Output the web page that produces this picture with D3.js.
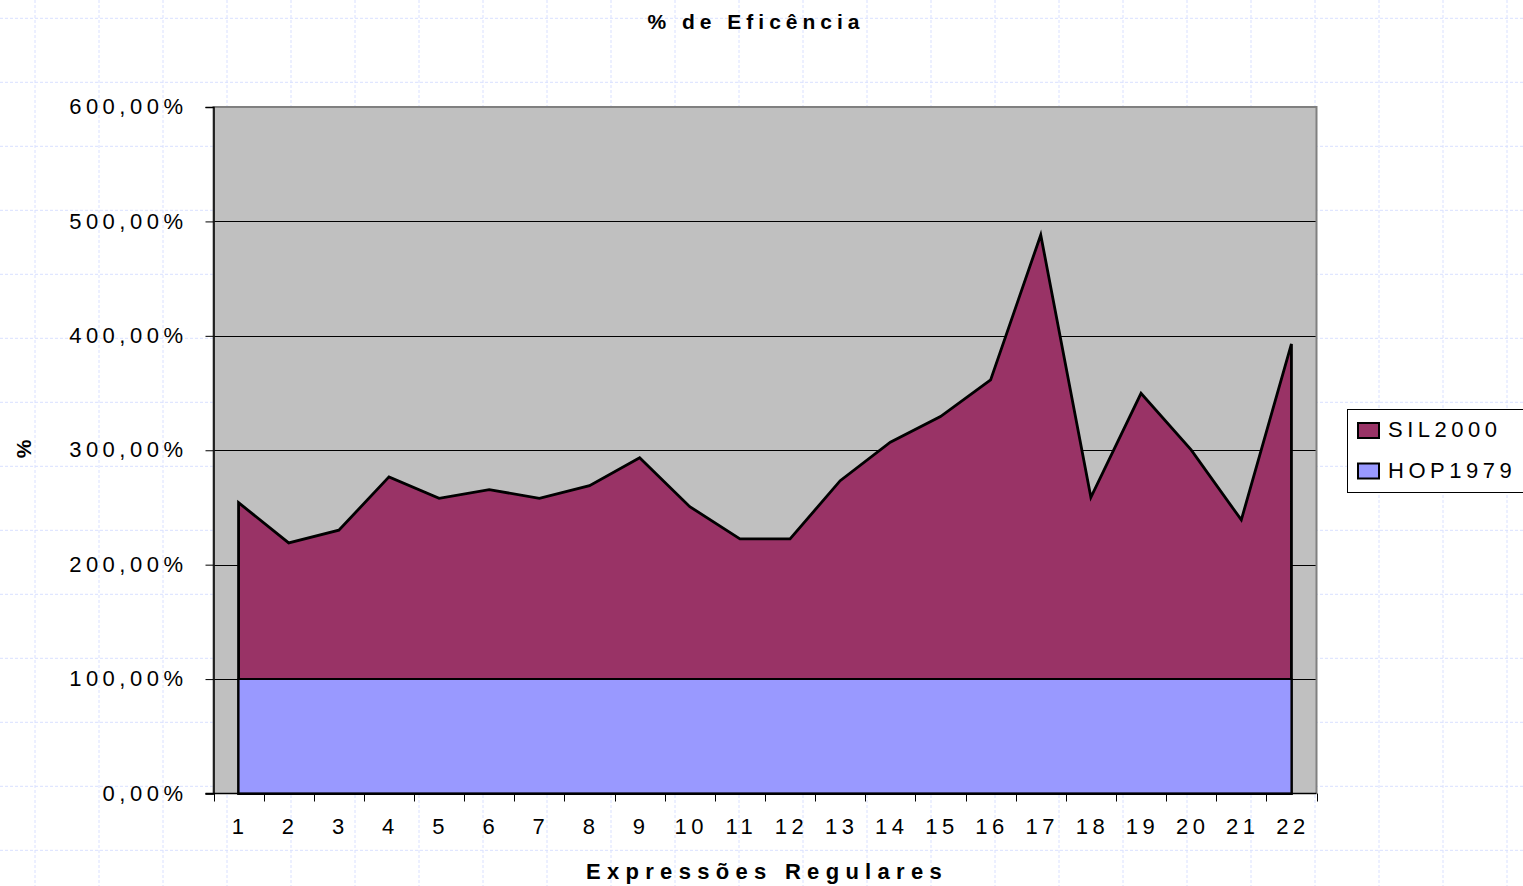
<!DOCTYPE html>
<html>
<head>
<meta charset="utf-8">
<title>% de Eficência</title>
<script src="https://cdn.jsdelivr.net/npm/d3@7"></script>
<style>
  html, body { margin: 0; padding: 0; background: #fff; }
  svg { display: block; }
  text { font-family: "Liberation Sans", Arial, sans-serif; fill: #000; }
</style>
</head>
<body>
<svg id="chart" width="1523" height="886"></svg>
<script>
// Regular expression ids (category axis)
const categories = ["1","2","3","4","5","6","7","8","9","10","11","12","13","14","15","16","17","18","19","20","21","22"];
// Efficiency in percent, relative to HOP1979
const sil2000 = [254.2, 219.0, 230.1, 276.7, 258.0, 265.6, 258.0, 269.1, 293.5, 250.7, 222.5, 222.5,
                 273.4, 307.0, 329.4, 361.4, 488.2, 258.9, 349.8, 300.3, 239.1, 392.9];
const hop1979 = [100, 100, 100, 100, 100, 100, 100, 100, 100, 100, 100, 100,
                 100, 100, 100, 100, 100, 100, 100, 100, 100, 100];
const yTicks = [0, 100, 200, 300, 400, 500, 600];
const seriesNames = ["SIL2000", "HOP1979"];
const seriesColors = ["#993366", "#9999FF"];

const svg = d3.select("#chart");
const W = 1523, H = 886;
const plot = { left: 213.5, right: 1316.5, top: 107, bottom: 793.5 };

// Dashed page grid in the background
const bg = svg.append("g").attr("class", "page-grid")
  .attr("stroke", "#d9e0ff").attr("stroke-width", 1).attr("stroke-dasharray", "3,2");
d3.range(35, W, 64).forEach(x => {
  bg.append("line").attr("x1", x).attr("x2", x).attr("y1", 0).attr("y2", H);
});
d3.range(18.3, H, 64).forEach(y => {
  bg.append("line").attr("x1", 0).attr("x2", W).attr("y1", y).attr("y2", y);
});

const x = d3.scaleBand().domain(categories).range([plot.left, plot.right]);
const cx = c => x(c) + x.bandwidth() / 2;
const y = d3.scaleLinear().domain([0, 600]).range([plot.bottom, plot.top]);

// Plot area
svg.append("rect")
  .attr("x", plot.left).attr("y", plot.top)
  .attr("width", plot.right - plot.left).attr("height", plot.bottom - plot.top)
  .attr("fill", "#c0c0c0");

// Horizontal value gridlines
svg.append("g").selectAll("line")
  .data(yTicks.filter(t => t > 0 && t < 600))
  .join("line")
  .attr("x1", plot.left).attr("x2", plot.right)
  .attr("y1", d => Math.round(y(d)) + 0.5).attr("y2", d => Math.round(y(d)) + 0.5)
  .attr("stroke", "#000").attr("stroke-width", 1);

// Plot frame (top, left, right)
svg.append("path")
  .attr("d", `M${plot.left},${plot.bottom} V${plot.top} H${plot.right} V${plot.bottom}`)
  .attr("fill", "none").attr("stroke", "#808080").attr("stroke-width", 2);

const rows = categories.map((c, i) => ({ c, sil: sil2000[i], hop: hop1979[i] }));

function areaPath(key) {
  const a = d3.area().x(d => cx(d.c)).y0(y(0)).y1(d => y(d[key]));
  return a(rows);
}

// SIL2000 area (behind), HOP1979 area (front)
svg.append("path").attr("d", areaPath("sil"))
  .attr("fill", seriesColors[0]).attr("stroke", "#000").attr("stroke-width", 2.8)
  .attr("stroke-linejoin", "miter");
svg.append("path").attr("d", areaPath("hop"))
  .attr("fill", seriesColors[1]).attr("stroke", "#000").attr("stroke-width", 2);

// Y axis
const fmt = v => d3.format(".2f")(v).replace(".", ",") + "%";
const yAxis = svg.append("g")
  .attr("transform", `translate(${plot.left},0)`)
  .call(d3.axisLeft(y).tickValues(yTicks).tickFormat(fmt).tickSize(8).tickPadding(18));
yAxis.select(".domain").attr("stroke", "#000").attr("stroke-width", 1.5);
yAxis.selectAll(".tick line").attr("stroke", "#000");
yAxis.selectAll(".tick text")
  .attr("font-size", 22).attr("letter-spacing", "4.5px")
  .attr("font-family", "Liberation Sans, Arial, sans-serif")
  .attr("dy", "0.3em");

// X axis with ticks at band edges and labels centered in each band
const xAxisG = svg.append("g");
xAxisG.append("line")
  .attr("x1", plot.left - 8).attr("x2", plot.right)
  .attr("y1", plot.bottom).attr("y2", plot.bottom)
  .attr("stroke", "#000").attr("stroke-width", 1.5);
const edges = categories.map(c => x(c)).concat([plot.right]);
xAxisG.selectAll("line.tick").data(edges).join("line")
  .attr("class", "tick")
  .attr("x1", d => Math.round(d) + 0.5).attr("x2", d => Math.round(d) + 0.5)
  .attr("y1", plot.bottom).attr("y2", plot.bottom + 8)
  .attr("stroke", "#000");
xAxisG.selectAll("text").data(categories).join("text")
  .attr("x", d => cx(d) + 1.5).attr("y", 834)
  .attr("text-anchor", "middle")
  .attr("font-size", 22).attr("letter-spacing", "4.5px")
  .text(d => d);

// Titles
svg.append("text")
  .attr("x", 756).attr("y", 29)
  .attr("text-anchor", "middle")
  .attr("font-size", 21).attr("font-weight", "bold").attr("letter-spacing", "5px")
  .text("% de Eficência");
svg.append("text")
  .attr("x", 767).attr("y", 879)
  .attr("text-anchor", "middle")
  .attr("font-size", 22).attr("font-weight", "bold").attr("letter-spacing", "6.3px")
  .text("Expressões Regulares");
svg.append("text")
  .attr("transform", "translate(31,449) rotate(-90)")
  .attr("text-anchor", "middle")
  .attr("font-size", 21).attr("font-weight", "bold")
  .text("%");

// Legend
const lg = svg.append("g");
lg.append("rect")
  .attr("x", 1347.5).attr("y", 409.5).attr("width", 190).attr("height", 83)
  .attr("fill", "#fff").attr("stroke", "#000").attr("stroke-width", 1);
seriesNames.forEach((name, i) => {
  const yy = 423 + i * 40.5;
  lg.append("rect")
    .attr("x", 1358).attr("y", yy).attr("width", 21).attr("height", 15)
    .attr("fill", seriesColors[i]).attr("stroke", "#000").attr("stroke-width", 2);
  lg.append("text")
    .attr("x", 1388).attr("y", yy + 14)
    .attr("font-size", 22).attr("letter-spacing", "4.5px")
    .text(name);
});
</script>
</body>
</html>
